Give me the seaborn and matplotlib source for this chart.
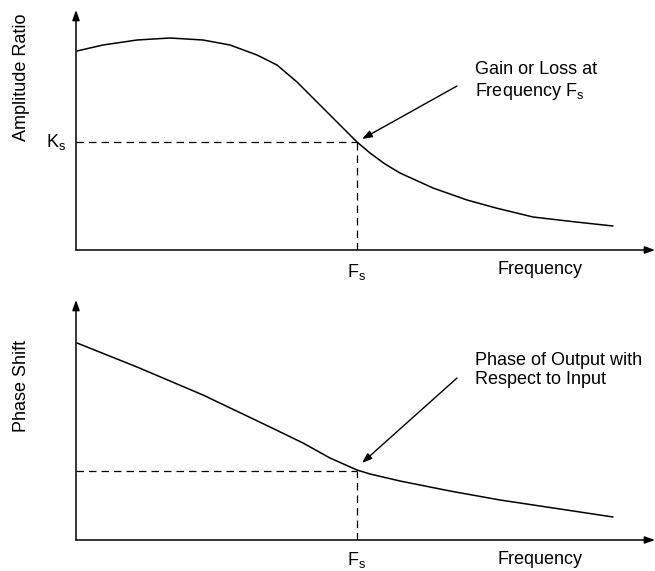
import matplotlib
matplotlib.use("Agg")
import matplotlib.pyplot as plt
import seaborn as sns
import pandas as pd

# Schematic frequency response (arbitrary units)
amp_freq = [1, 27, 61, 94, 127, 154, 181, 201, 221, 241, 261, 281, 294, 309, 324,
            357, 391, 420, 457, 500, 537]
amp_ratio = [199, 205, 210, 212, 210, 205, 195, 185, 168, 148, 128, 108, 97, 86, 77,
             62, 50, 42, 33, 28, 24]

phase_freq = [1, 61, 127, 194, 227, 254, 281, 294, 324, 374, 424, 484, 537]
phase_shift = [197, 173, 145, 113, 97, 82, 70, 66, 59, 49, 40, 31, 23]

fs = 281          # the frequency Fs
ks = 108          # amplitude ratio at Fs
phase_at_fs = 69  # phase shift at Fs

x_max, y_max = 579, 240

sns.set_theme(style="white")
plt.rcParams["font.family"] = ["Liberation Sans", "DejaVu Sans"]
plt.rcParams["mathtext.default"] = "regular"
plt.rcParams["text.color"] = "black"

fig = plt.figure(figsize=(6.55, 5.71), dpi=100)
ax_top = fig.add_axes([76 / 655, 321 / 571, 579 / 655, 240 / 571])
ax_bot = fig.add_axes([76 / 655, 31 / 571, 579 / 655, 240 / 571])

FS = 13
line_kw = dict(color="black", lw=1.1)
dash_kw = dict(color="black", lw=0.9, ls=(0, (6, 4)))
head = "-|>,head_length=0.5,head_width=0.18"


def draw_axes(ax):
    ax.set_xlim(0, x_max)
    ax.set_ylim(0, y_max)
    ax.axis("off")
    arrow = dict(arrowstyle=head, color="black", lw=1.1, shrinkA=0, shrinkB=0)
    ax.annotate("", xy=(0, y_max), xytext=(0, 0), arrowprops=arrow, annotation_clip=False)
    ax.annotate("", xy=(x_max, 0), xytext=(0, 0), arrowprops=arrow, annotation_clip=False)


# Amplitude ratio panel
draw_axes(ax_top)
df_amp = pd.DataFrame({"f": amp_freq, "a": amp_ratio})
sns.lineplot(data=df_amp, x="f", y="a", ax=ax_top, sort=False, **line_kw)
ax_top.plot([0, fs], [ks, ks], **dash_kw)
ax_top.plot([fs, fs], [0, ks], **dash_kw)
ax_top.text(-10, ks, "K$_s$", ha="right", va="center", fontsize=FS)
ax_top.text(fs, -22, "F$_s$", ha="center", va="center", fontsize=FS)
ax_top.text(464, -20, "Frequency", ha="center", va="center", fontsize=FS)
ax_top.text(-54, 173, "Amplitude Ratio", rotation=90, ha="center", va="center",
            fontsize=FS, clip_on=False)
ax_top.text(399, 168, "Gain or Loss at\nFrequency F$_s$", ha="left", va="center",
            fontsize=FS, linespacing=1.2)
ax_top.annotate("", xy=(fs + 5, ks + 3), xytext=(381, 164),
                arrowprops=dict(arrowstyle=head, color="black", lw=1.0, shrinkA=0, shrinkB=0))

# Phase shift panel
draw_axes(ax_bot)
df_phase = pd.DataFrame({"f": phase_freq, "p": phase_shift})
sns.lineplot(data=df_phase, x="f", y="p", ax=ax_bot, sort=False, **line_kw)
ax_bot.plot([0, fs], [phase_at_fs, phase_at_fs], **dash_kw)
ax_bot.plot([fs, fs], [0, phase_at_fs], **dash_kw)
ax_bot.text(fs, -20, "F$_s$", ha="center", va="center", fontsize=FS)
ax_bot.text(464, -19, "Frequency", ha="center", va="center", fontsize=FS)
ax_bot.text(-54, 154, "Phase Shift", rotation=90, ha="center", va="center",
            fontsize=FS, clip_on=False)
ax_bot.text(399, 170, "Phase of Output with\nRespect to Input", ha="left", va="center",
            fontsize=FS, linespacing=1.2)
ax_bot.annotate("", xy=(fs + 5, phase_at_fs + 8), xytext=(381, 162),
                arrowprops=dict(arrowstyle=head, color="black", lw=1.0, shrinkA=0, shrinkB=0))

fig.savefig("out.png", dpi=100)
